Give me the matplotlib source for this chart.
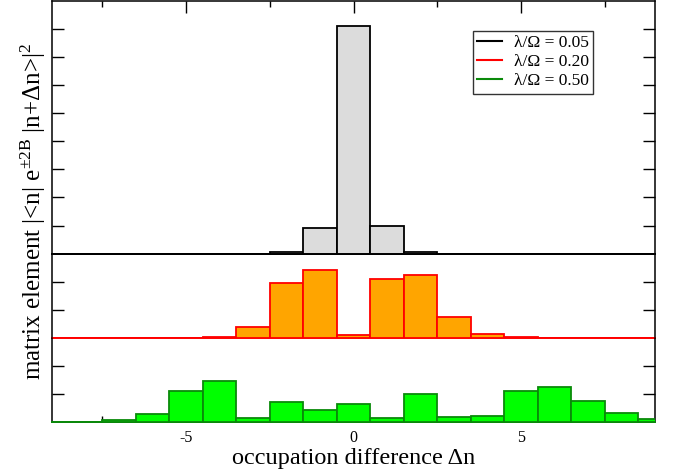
import matplotlib.pyplot as plt
import numpy as np
from matplotlib.lines import Line2D

plt.rcParams['font.family'] = ['Liberation Serif', 'DejaVu Serif']
plt.rcParams['mathtext.fontset'] = 'custom'
plt.rcParams['mathtext.rm'] = 'Liberation Serif'
plt.rcParams['mathtext.it'] = 'Liberation Serif:italic'
plt.rcParams['axes.unicode_minus'] = False

# occupation difference
dn = np.arange(-9, 10)

# lambda/Omega = 0.05
p005 = [0, 0, 0, 0, 0, 0, 0, 0.004, 0.090, 0.809, 0.097, 0.004, 0, 0, 0, 0, 0, 0, 0]
# lambda/Omega = 0.20
p020 = [0, 0, 0, 0, 0.001, 0.004, 0.039, 0.196, 0.242, 0.010, 0.209, 0.225, 0.073, 0.012, 0.003, 0.001, 0, 0, 0]
# lambda/Omega = 0.50
p050 = [0, 0, 0.006, 0.030, 0.110, 0.146, 0.016, 0.072, 0.043, 0.064, 0.013, 0.099, 0.019, 0.021, 0.110, 0.124, 0.076, 0.032, 0.010]

labels = ['λ/Ω = 0.05', 'λ/Ω = 0.20', 'λ/Ω = 0.50']
edge_cols = ['black', 'red', '#0a8a0a']
fill_cols = ['#dcdcdc', '#ffa500', '#00ff00']

fig = plt.figure(figsize=(6.73, 4.74), dpi=100)
gs = fig.add_gridspec(3, 1, height_ratios=[3, 1, 1], hspace=0,
                      left=0.0773, right=0.9733, bottom=0.1097, top=0.998)
axes = [fig.add_subplot(gs[i]) for i in range(3)]

for ax, vals, ec, fc in zip(axes, [p005, p020, p050], edge_cols, fill_cols):
    ax.patch.set_visible(False)
    ax.axhline(0, color=ec, lw=1.4, zorder=2.9, clip_on=False)
    ax.bar(dn, vals, width=1.0, color=fc, edgecolor=ec, linewidth=1.3, zorder=3)
    ax.set_xlim(-9, 9)
    for s in ax.spines.values():
        s.set_linewidth(1.1)
    ax.tick_params(axis='y', which='both', direction='in', left=True, right=True,
                   labelleft=False, length=8.6, width=1.0)
    ax.tick_params(axis='x', which='both', direction='in', bottom=False, top=False,
                   labelbottom=False)

axes[0].set_ylim(0, 0.9)
axes[0].set_yticks(np.arange(0.1, 0.85, 0.1))
axes[1].set_ylim(0, 0.3)
axes[1].set_yticks([0.1, 0.2])
axes[2].set_ylim(0, 0.3)
axes[2].set_yticks([0.1, 0.2])

axes[1].spines['bottom'].set_visible(False)
axes[2].spines['top'].set_visible(False)

for ax in (axes[0], axes[2]):
    ax.set_xticks([-5, 0, 5])
    ax.set_xticks([-7.5, -2.5, 2.5, 7.5], minor=True)

axes[0].tick_params(axis='x', which='both', top=True, bottom=False)
axes[0].tick_params(axis='x', which='major', length=8.6, width=1.0)
axes[0].tick_params(axis='x', which='minor', length=4.3, width=1.0)

axes[2].tick_params(axis='x', which='both', bottom=True, labelbottom=True)
axes[2].tick_params(axis='x', which='major', length=8.6, width=1.0, labelsize=11.5, pad=6)
axes[2].tick_params(axis='x', which='minor', length=4.3, width=1.0)
axes[2].set_xlabel('occupation difference Δn', fontsize=17.5, labelpad=1)

handles = [Line2D([], [], color=c, lw=1.5) for c in edge_cols]
leg = axes[0].legend(handles, labels, loc='upper left', bbox_to_anchor=(0.698, 0.882),
                     fontsize=12.5, frameon=True, fancybox=False, borderpad=0.25,
                     handlelength=1.4, handletextpad=0.7, labelspacing=0.17,
                     borderaxespad=0)
leg.get_frame().set_edgecolor('black')
leg.get_frame().set_linewidth(1.0)

fig.text(0.05, 0.555,
         r'matrix element |<n| e$^{\pm 2\mathrm{B}}$ |n+Δn>|$^{2}$',
         rotation=90, ha='center', va='center', fontsize=18)

fig.savefig('out.png', dpi=100)
